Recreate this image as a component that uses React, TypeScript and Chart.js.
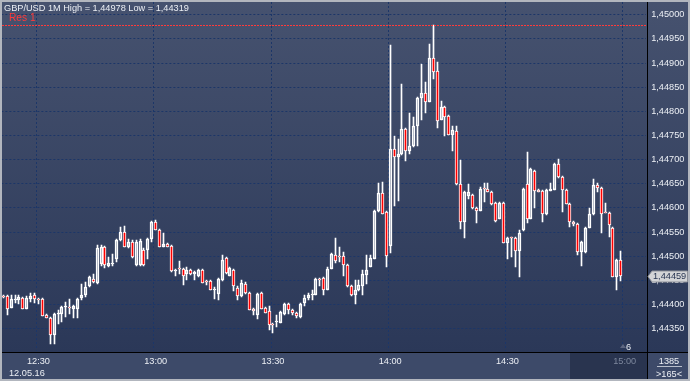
import React, { useEffect, useRef } from 'react';
import { Chart, registerables } from 'chart.js';

Chart.register(...registerables);

// ---- data (1-minute candles, 12:21 .. 14:59) ----
const openPrices = [
  1.44417, 1.44418, 1.44393, 1.44410, 1.44409, 1.44414, 1.44391, 1.44411, 1.44419, 1.44411,
  1.44411, 1.44378, 1.44373, 1.44336, 1.44380, 1.44381, 1.44394, 1.44395, 1.44391, 1.44391,
  1.44413, 1.44420, 1.44438, 1.44452, 1.44445, 1.44483, 1.44519, 1.44480, 1.44484, 1.44494,
  1.44533, 1.44550, 1.44519, 1.44530, 1.44481, 1.44481, 1.44512, 1.44512, 1.44535, 1.44570,
  1.44555, 1.44519, 1.44525, 1.44521, 1.44469, 1.44474, 1.44474, 1.44463, 1.44472, 1.44463,
  1.44458, 1.44472, 1.44448, 1.44448, 1.44431, 1.44422, 1.44450, 1.44497, 1.44460, 1.44472,
  1.44434, 1.44418, 1.44443, 1.44424, 1.44391, 1.44379, 1.44424, 1.44393, 1.44386, 1.44360,
  1.44364, 1.44362, 1.44380, 1.44400, 1.44389, 1.44383, 1.44374, 1.44403, 1.44413, 1.44420,
  1.44420, 1.44452, 1.44454, 1.44431, 1.44474, 1.44502, 1.44500, 1.44500, 1.44481, 1.44438,
  1.44419, 1.44429, 1.44438, 1.44462, 1.44478, 1.44495, 1.44593, 1.44630, 1.44591, 1.44522,
  1.44721, 1.44706, 1.44711, 1.44763, 1.44718, 1.44728, 1.44770, 1.44827, 1.44838, 1.44820,
  1.44910, 1.44884, 1.44782, 1.44808, 1.44790, 1.44751, 1.44759, 1.44649, 1.44570, 1.44625,
  1.44627, 1.44599, 1.44594, 1.44640, 1.44640, 1.44633, 1.44611, 1.44577, 1.44611, 1.44528,
  1.44538, 1.44538, 1.44510, 1.44554, 1.44649, 1.44578, 1.44677, 1.44638, 1.44635, 1.44587,
  1.44635, 1.44638, 1.44691, 1.44663, 1.44638, 1.44609, 1.44571, 1.44566, 1.44508, 1.44508,
  1.44559, 1.44587, 1.44647, 1.44642, 1.44591, 1.44590, 1.44559, 1.44457, 1.44492,
];
const highPrices = [
  1.44419, 1.44419, 1.44420, 1.44420, 1.44419, 1.44415, 1.44417, 1.44423, 1.44423, 1.44412,
  1.44413, 1.44379, 1.44374, 1.44381, 1.44388, 1.44396, 1.44405, 1.44412, 1.44397, 1.44413,
  1.44443, 1.44447, 1.44457, 1.44464, 1.44523, 1.44523, 1.44522, 1.44498, 1.44504, 1.44535,
  1.44560, 1.44562, 1.44535, 1.44533, 1.44533, 1.44536, 1.44516, 1.44536, 1.44573, 1.44575,
  1.44556, 1.44549, 1.44527, 1.44523, 1.44472, 1.44490, 1.44475, 1.44478, 1.44473, 1.44469,
  1.44473, 1.44473, 1.44450, 1.44449, 1.44436, 1.44453, 1.44502, 1.44498, 1.44477, 1.44473,
  1.44438, 1.44450, 1.44446, 1.44425, 1.44392, 1.44423, 1.44425, 1.44394, 1.44396, 1.44361,
  1.44379, 1.44384, 1.44400, 1.44403, 1.44390, 1.44384, 1.44402, 1.44419, 1.44423, 1.44431,
  1.44453, 1.44454, 1.44455, 1.44478, 1.44507, 1.44537, 1.44519, 1.44509, 1.44482, 1.44440,
  1.44450, 1.44450, 1.44471, 1.44502, 1.44503, 1.44595, 1.44652, 1.44653, 1.44592, 1.44938,
  1.44749, 1.44743, 1.44857, 1.44765, 1.44796, 1.44789, 1.44830, 1.44898, 1.44860, 1.44940,
  1.44978, 1.44903, 1.44822, 1.44809, 1.44791, 1.44770, 1.44770, 1.44699, 1.44633, 1.44649,
  1.44629, 1.44600, 1.44644, 1.44651, 1.44651, 1.44635, 1.44612, 1.44612, 1.44612, 1.44539,
  1.44539, 1.44539, 1.44555, 1.44641, 1.44715, 1.44681, 1.44678, 1.44639, 1.44636, 1.44640,
  1.44651, 1.44692, 1.44701, 1.44664, 1.44639, 1.44610, 1.44572, 1.44567, 1.44531, 1.44560,
  1.44599, 1.44659, 1.44651, 1.44643, 1.44611, 1.44591, 1.44560, 1.44493, 1.44511,
];
const lowPrices = [
  1.44413, 1.44378, 1.44392, 1.44404, 1.44402, 1.44390, 1.44390, 1.44405, 1.44403, 1.44400,
  1.44376, 1.44371, 1.44319, 1.44319, 1.44360, 1.44364, 1.44374, 1.44381, 1.44373, 1.44373,
  1.44409, 1.44415, 1.44436, 1.44444, 1.44443, 1.44480, 1.44476, 1.44478, 1.44479, 1.44489,
  1.44531, 1.44518, 1.44516, 1.44497, 1.44479, 1.44479, 1.44480, 1.44495, 1.44530, 1.44554,
  1.44518, 1.44518, 1.44518, 1.44468, 1.44458, 1.44463, 1.44440, 1.44450, 1.44462, 1.44450,
  1.44457, 1.44444, 1.44440, 1.44430, 1.44412, 1.44410, 1.44449, 1.44464, 1.44458, 1.44428,
  1.44409, 1.44415, 1.44422, 1.44388, 1.44378, 1.44369, 1.44390, 1.44382, 1.44348, 1.44340,
  1.44353, 1.44361, 1.44378, 1.44381, 1.44379, 1.44371, 1.44371, 1.44396, 1.44410, 1.44410,
  1.44419, 1.44438, 1.44419, 1.44430, 1.44473, 1.44485, 1.44488, 1.44460, 1.44437, 1.44417,
  1.44400, 1.44427, 1.44419, 1.44443, 1.44477, 1.44494, 1.44592, 1.44587, 1.44478, 1.44507,
  1.44604, 1.44615, 1.44710, 1.44698, 1.44712, 1.44727, 1.44728, 1.44782, 1.44797, 1.44819,
  1.44867, 1.44766, 1.44781, 1.44749, 1.44750, 1.44718, 1.44648, 1.44556, 1.44538, 1.44618,
  1.44597, 1.44568, 1.44593, 1.44613, 1.44632, 1.44607, 1.44571, 1.44576, 1.44527, 1.44494,
  1.44498, 1.44478, 1.44457, 1.44553, 1.44568, 1.44577, 1.44600, 1.44632, 1.44571, 1.44586,
  1.44634, 1.44637, 1.44662, 1.44592, 1.44608, 1.44561, 1.44562, 1.44503, 1.44480, 1.44507,
  1.44558, 1.44586, 1.44633, 1.44548, 1.44589, 1.44539, 1.44456, 1.44431, 1.44449,
];
const closePrices = [
  1.44416, 1.44390, 1.44411, 1.44411, 1.44415, 1.44391, 1.44414, 1.44418, 1.44411, 1.44409,
  1.44377, 1.44373, 1.44336, 1.44380, 1.44381, 1.44395, 1.44395, 1.44393, 1.44396, 1.44411,
  1.44420, 1.44436, 1.44456, 1.44446, 1.44517, 1.44519, 1.44481, 1.44485, 1.44485, 1.44533,
  1.44550, 1.44519, 1.44530, 1.44498, 1.44530, 1.44532, 1.44481, 1.44535, 1.44570, 1.44555,
  1.44519, 1.44525, 1.44519, 1.44469, 1.44472, 1.44473, 1.44459, 1.44472, 1.44463, 1.44467,
  1.44472, 1.44445, 1.44447, 1.44431, 1.44432, 1.44452, 1.44493, 1.44465, 1.44476, 1.44438,
  1.44418, 1.44445, 1.44423, 1.44389, 1.44386, 1.44422, 1.44391, 1.44383, 1.44358, 1.44358,
  1.44365, 1.44384, 1.44400, 1.44389, 1.44383, 1.44376, 1.44402, 1.44413, 1.44419, 1.44421,
  1.44452, 1.44451, 1.44431, 1.44474, 1.44504, 1.44490, 1.44499, 1.44481, 1.44438, 1.44419,
  1.44431, 1.44440, 1.44463, 1.44471, 1.44496, 1.44593, 1.44630, 1.44588, 1.44500, 1.44721,
  1.44706, 1.44711, 1.44763, 1.44718, 1.44728, 1.44770, 1.44827, 1.44838, 1.44820, 1.44910,
  1.44882, 1.44779, 1.44808, 1.44789, 1.44751, 1.44761, 1.44649, 1.44570, 1.44632, 1.44632,
  1.44599, 1.44594, 1.44640, 1.44639, 1.44633, 1.44608, 1.44572, 1.44611, 1.44528, 1.44538,
  1.44537, 1.44510, 1.44549, 1.44640, 1.44577, 1.44680, 1.44635, 1.44633, 1.44587, 1.44637,
  1.44640, 1.44691, 1.44663, 1.44638, 1.44609, 1.44570, 1.44566, 1.44508, 1.44530, 1.44559,
  1.44587, 1.44647, 1.44642, 1.44587, 1.44590, 1.44564, 1.44457, 1.44492, 1.44459,
];

const FIRST_MINUTE = 12 * 60 + 21; // first visible candle 12:21
const SLOT_COUNT = 165; // minutes shown on the time axis (up to 15:05)
const categories: string[] = [];
for (let i = 0; i < SLOT_COUNT; i++) {
  const m = FIRST_MINUTE + i;
  categories.push(`${Math.floor(m / 60)}:${String(m % 60).padStart(2, '0')}`);
}
const xTickLabels = ['12:30', '13:00', '13:30', '14:00', '14:30', '15:00'];
const dimmedTick = '15:00';
const dateLabel = '12.05.16';

const Y_MIN = 1.443037;
const Y_MAX = 1.450263;
const Y_STEP = 0.0005;
const resLevel = 1.44978;
const resLabel = 'Res 1';
const lastPrice = 1.44459;
const highValue = 1.44978;
const lowValue = 1.44319;
const symbolTitle = 'GBP/USD 1M';
const infoTop = '1385';
const infoBottom = '>165<';
const markerText = '6';

const FONT = "'Liberation Sans', Arial, sans-serif";
const FS = 9.2;
const TEXT = '#eceff4';
const GRID = '#1c3668';
const RED = '#ff3a3a';

const fmt = (v: number) => v.toFixed(5).replace('.', ',');

const framePlugin = {
  id: 'frame',
  beforeDraw(chart: any) {
    const { ctx } = chart;
    ctx.save();
    ctx.fillStyle = '#b2b6be';
    ctx.fillRect(0, 0, 690, 381);
    const g = ctx.createLinearGradient(0, 2, 0, 352);
    g.addColorStop(0, '#46526f');
    g.addColorStop(1, '#2b3858');
    ctx.fillStyle = g;
    ctx.fillRect(2, 2, 686, 350);
    ctx.fillStyle = '#3d4a69';
    ctx.fillRect(2, 353, 686, 26);
    ctx.fillStyle = '#29344f';
    ctx.fillRect(570, 353, 77, 26);
    ctx.restore();
  },
  beforeDatasetsDraw(chart: any) {
    // snap candle marks to whole pixels so they look crisp
    chart.data.datasets.forEach((_d: any, di: number) => {
      const meta = chart.getDatasetMeta(di);
      meta.data.forEach((el: any) => {
        el.x = Math.floor(el.x) + 0.5;
        let y = Math.round(el.y);
        const b = Math.round(el.base);
        if (y === b) y = b - 1;
        el.y = y;
        el.base = b;
      });
    });
  },
  afterDatasetsDraw(chart: any) {
    const { ctx } = chart;
    ctx.save();
    ctx.fillStyle = '#b2b6be';
    ctx.fillRect(0, 0, 2, 381);
    ctx.fillRect(0, 0, 690, 2);
    ctx.restore();
  },
  afterDraw(chart: any) {
    const { ctx } = chart;
    ctx.save();
    // resistance level line
    const ry = Math.round(chart.scales.y.getPixelForValue(resLevel));
    ctx.fillStyle = RED;
    for (let x = 2; x < 646; x += 3) {
      ctx.fillRect(x, ry, 2, 1);
    }
    ctx.font = `${FS + 1}px ${FONT}`;
    ctx.textBaseline = 'alphabetic';
    ctx.textAlign = 'left';
    ctx.fillText(resLabel, 9, 21);
    // separators
    ctx.fillStyle = '#000000';
    ctx.fillRect(647, 2, 1, 377);
    ctx.fillRect(2, 352, 686, 1);
    // title
    ctx.font = `${FS}px ${FONT}`;
    ctx.fillStyle = TEXT;
    ctx.fillText(`${symbolTitle} High = ${fmt(highValue)} Low = ${fmt(lowValue)}`, 4, 11);
    // date
    ctx.fillText(dateLabel, 9, 376);
    // info box
    ctx.textAlign = 'center';
    ctx.fillText(infoTop, 669, 364);
    ctx.fillText(infoBottom, 669, 377);
    ctx.fillStyle = '#b9bfcb';
    ctx.fillRect(657, 366, 25, 1);
    // bar counter marker
    ctx.fillStyle = '#5d6680';
    ctx.beginPath();
    ctx.moveTo(620, 348);
    ctx.lineTo(623, 344);
    ctx.lineTo(626, 348);
    ctx.closePath();
    ctx.fill();
    ctx.fillStyle = TEXT;
    ctx.textAlign = 'left';
    ctx.fillText(markerText, 626, 350);
    // last price tag
    const py = Math.round(chart.scales.y.getPixelForValue(lastPrice)) + 0.5;
    ctx.beginPath();
    ctx.moveTo(648, py);
    ctx.lineTo(652, py - 5.5);
    ctx.lineTo(687.5, py - 5.5);
    ctx.lineTo(687.5, py + 5.5);
    ctx.lineTo(652, py + 5.5);
    ctx.closePath();
    ctx.fillStyle = '#d3d4d6';
    ctx.fill();
    ctx.strokeStyle = '#8d9098';
    ctx.lineWidth = 1;
    ctx.stroke();
    ctx.fillStyle = '#283552';
    ctx.textBaseline = 'middle';
    ctx.fillText(fmt(lastPrice), 653, py);
    // outer frame right/bottom
    ctx.fillStyle = '#b2b6be';
    ctx.fillRect(688, 0, 2, 381);
    ctx.fillRect(0, 379, 690, 2);
    ctx.restore();
  },
};

export default function App() {
  const ref = useRef<HTMLCanvasElement>(null);
  useEffect(() => {
    document.body.style.margin = '0';
    const canvas = ref.current!;
    const bodies = openPrices.map((o, i) => [o, closePrices[i]]);
    const upper = openPrices.map((o, i) => [Math.max(o, closePrices[i]), highPrices[i]]);
    const lower = openPrices.map((o, i) => [lowPrices[i], Math.min(o, closePrices[i])]);
    const bodyColors = openPrices.map((o, i) => (closePrices[i] < o ? '#ff0000' : 'rgba(0,0,0,0)'));
    const chart = new Chart(canvas, {
      type: 'bar',
      data: {
        labels: categories,
        datasets: [
          {
            label: 'body',
            data: bodies as any,
            backgroundColor: bodyColors,
            borderColor: '#ffffff',
            borderWidth: 1,
            borderSkipped: false,
            barThickness: 3,
            minBarLength: 1,
            grouped: false,
          } as any,
          {
            label: 'upper',
            data: upper as any,
            backgroundColor: '#ffffff',
            borderWidth: 0,
            barThickness: 1,
            grouped: false,
          } as any,
          {
            label: 'lower',
            data: lower as any,
            backgroundColor: '#ffffff',
            borderWidth: 0,
            barThickness: 1,
            grouped: false,
          } as any,
        ],
      },
      options: {
        responsive: false,
        maintainAspectRatio: false,
        animation: false,
        layout: { padding: { left: 1.35, top: 2, right: 0, bottom: 0 } },
        plugins: { legend: { display: false }, tooltip: { enabled: false } },
        scales: {
          x: {
            type: 'category',
            offset: true,
            grid: {
              offset: true,
              drawTicks: false,
              lineWidth: 1,
              color: (c: any) => (xTickLabels.includes(categories[c.index]) ? GRID : 'rgba(0,0,0,0)'),
            },
            border: { display: false, dash: [2, 2] },
            ticks: {
              autoSkip: false,
              maxRotation: 0,
              minRotation: 0,
              padding: 5,
              font: { family: FONT, size: FS },
              color: (c: any) => (categories[c.index] === dimmedTick ? '#7d879d' : TEXT),
              callback: (_v: any, i: number) => (xTickLabels.includes(categories[i]) ? categories[i] : ''),
            },
            afterFit: (s: any) => {
              s.height = 30;
              s.paddingLeft = 0;
              s.paddingRight = 0;
            },
          },
          y: {
            position: 'right',
            min: Y_MIN,
            max: Y_MAX,
            grid: { color: GRID, drawTicks: false, lineWidth: 1 },
            border: { display: false, dash: [2, 2] },
            ticks: {
              stepSize: Y_STEP,
              includeBounds: false,
              padding: 5,
              font: { family: FONT, size: FS },
              color: TEXT,
              callback: (v: any) => fmt(Number(v)),
            },
            afterFit: (s: any) => {
              s.width = 43.8;
              s.paddingTop = 0;
              s.paddingBottom = 0;
            },
          },
        },
      },
      plugins: [framePlugin],
    } as any);
    return () => chart.destroy();
  }, []);
  return <canvas ref={ref} width={690} height={381} style={{ display: 'block', width: 690, height: 381 }} />;
}
